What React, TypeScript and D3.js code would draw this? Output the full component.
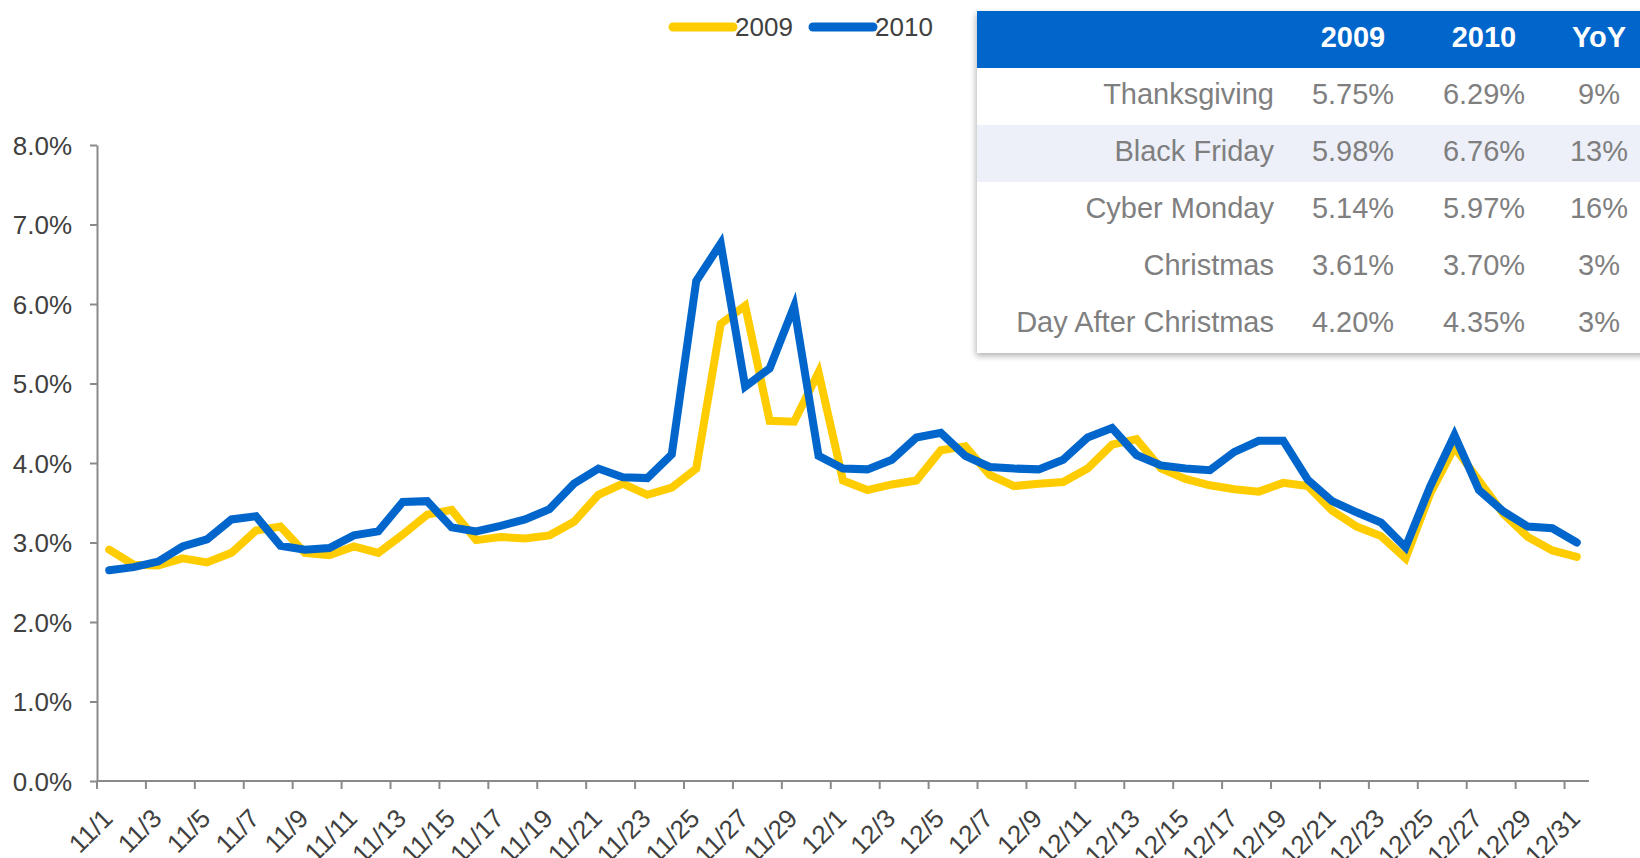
import React, { useEffect, useRef } from 'react';
import * as d3 from 'd3';

const DATES = [
  '11/1', '11/2', '11/3', '11/4', '11/5', '11/6', '11/7', '11/8', '11/9', '11/10',
  '11/11', '11/12', '11/13', '11/14', '11/15', '11/16', '11/17', '11/18', '11/19', '11/20',
  '11/21', '11/22', '11/23', '11/24', '11/25', '11/26', '11/27', '11/28', '11/29', '11/30',
  '12/1', '12/2', '12/3', '12/4', '12/5', '12/6', '12/7', '12/8', '12/9', '12/10',
  '12/11', '12/12', '12/13', '12/14', '12/15', '12/16', '12/17', '12/18', '12/19', '12/20',
  '12/21', '12/22', '12/23', '12/24', '12/25', '12/26', '12/27', '12/28', '12/29', '12/30',
  '12/31',
];

const SERIES_2009 = [
  2.91, 2.72, 2.71, 2.80, 2.75, 2.87, 3.15, 3.20, 2.87, 2.84,
  2.95, 2.87, 3.10, 3.35, 3.41, 3.03, 3.07, 3.05, 3.09, 3.26,
  3.60, 3.74, 3.60, 3.69, 3.93, 5.75, 5.98, 4.53, 4.52, 5.14,
  3.78, 3.66, 3.73, 3.78, 4.16, 4.21, 3.85, 3.71, 3.74, 3.76,
  3.93, 4.23, 4.30, 3.93, 3.80, 3.72, 3.67, 3.64, 3.75, 3.71,
  3.40, 3.20, 3.08, 2.80, 3.61, 4.20, 3.78, 3.36, 3.07, 2.90,
  2.82,
];

const SERIES_2010 = [
  2.65, 2.69, 2.76, 2.95, 3.04, 3.29, 3.33, 2.96, 2.91, 2.93,
  3.09, 3.14, 3.51, 3.52, 3.19, 3.14, 3.21, 3.29, 3.42, 3.74,
  3.93, 3.82, 3.81, 4.11, 6.29, 6.76, 4.96, 5.19, 5.97, 4.09,
  3.93, 3.92, 4.04, 4.32, 4.38, 4.09, 3.95, 3.93, 3.92, 4.04,
  4.32, 4.44, 4.10, 3.97, 3.93, 3.91, 4.14, 4.28, 4.28, 3.79,
  3.52, 3.38, 3.25, 2.94, 3.70, 4.35, 3.66, 3.39, 3.20, 3.18,
  3.00,
];

const Y_TICKS = [0, 1, 2, 3, 4, 5, 6, 7, 8];

const SERIES_NAMES = ['2009', '2010'];
const SERIES_COLORS = ['#ffcc00', '#0066cc'];

const TABLE_HEADERS = ['2009', '2010', 'YoY'];
const TABLE_EVENTS = ['Thanksgiving', 'Black Friday', 'Cyber Monday', 'Christmas', 'Day After Christmas'];
const TABLE_2009 = ['5.75%', '5.98%', '5.14%', '3.61%', '4.20%'];
const TABLE_2010 = ['6.29%', '6.76%', '5.97%', '3.70%', '4.35%'];
const TABLE_YOY = ['9%', '13%', '16%', '3%', '3%'];
const HIGHLIGHT_ROW = 'Black Friday';

const App: React.FC = () => {
  const svgRef = useRef<SVGSVGElement>(null);

  useEffect(() => {
    if (!svgRef.current) return;
    const width = 1640;
    const height = 858;
    const font = "'Liberation Sans', Arial, sans-serif";
    const axisColor = '#8a8a8a';
    const textColor = '#404040';
    const tableText = '#7f7f7f';

    const svg = d3.select(svgRef.current).attr('width', width).attr('height', height);
    svg.selectAll('*').remove();

    const x = d3.scaleBand<string>().domain(DATES).range([97, 1589]);
    const y = d3.scaleLinear().domain([0, 8]).range([781, 145]);
    const cx = (d: string) => (x(d) as number) + x.bandwidth() / 2;

    // y axis
    const yAxis = d3.axisLeft(y)
      .tickValues(Y_TICKS)
      .tickSize(7)
      .tickSizeOuter(0)
      .tickPadding(18)
      .tickFormat(d => `${(+d).toFixed(1)}%`);
    const gy = svg.append('g').attr('transform', 'translate(97,0)').call(yAxis);
    gy.select('.domain').attr('stroke', axisColor).attr('stroke-width', 2);
    gy.selectAll('.tick line').attr('stroke', axisColor).attr('stroke-width', 2);
    gy.selectAll('.tick text')
      .attr('fill', textColor)
      .attr('font-family', font)
      .attr('font-size', 26)
      .attr('dy', '0.36em');

    // x axis (ticks between every second category)
    const gx = svg.append('g');
    gx.append('line')
      .attr('x1', 97).attr('x2', 1589)
      .attr('y1', y(0)).attr('y2', y(0))
      .attr('stroke', axisColor).attr('stroke-width', 2);
    const labelled = DATES.filter((_, i) => i % 2 === 0);
    gx.selectAll('.xtick')
      .data(labelled)
      .enter()
      .append('line')
      .attr('x1', d => x(d) as number).attr('x2', d => x(d) as number)
      .attr('y1', y(0)).attr('y2', y(0) + 8)
      .attr('stroke', axisColor).attr('stroke-width', 2);
    gx.selectAll('.xlabel')
      .data(labelled)
      .enter()
      .append('text')
      .attr('transform', d => `translate(${cx(d) + 5},${y(0) + 39}) rotate(-45)`)
      .attr('text-anchor', 'end')
      .attr('fill', textColor)
      .attr('font-family', font)
      .attr('font-size', 26)
      .text(d => d);

    // lines
    const line = d3.line<number>()
      .x((_, i) => cx(DATES[i]))
      .y(d => y(d));
    [SERIES_2009, SERIES_2010].forEach((s, k) => {
      svg.append('path')
        .datum(s)
        .attr('d', line)
        .attr('fill', 'none')
        .attr('stroke', SERIES_COLORS[k])
        .attr('stroke-width', 8)
        .attr('stroke-linejoin', 'miter')
        .attr('stroke-linecap', 'round');
    });

    // legend
    const legendX = [673, 813];
    SERIES_NAMES.forEach((name, k) => {
      svg.append('line')
        .attr('x1', legendX[k]).attr('x2', legendX[k] + 60)
        .attr('y1', 27).attr('y2', 27)
        .attr('stroke', SERIES_COLORS[k])
        .attr('stroke-width', 9)
        .attr('stroke-linecap', 'round');
      svg.append('text')
        .attr('x', legendX[k] + 62).attr('y', 36)
        .attr('fill', textColor)
        .attr('font-family', font)
        .attr('font-size', 26)
        .text(name);
    });

    // table
    const defs = svg.append('defs');
    const filter = defs.append('filter').attr('id', 'shadow')
      .attr('x', '-5%').attr('y', '-5%').attr('width', '110%').attr('height', '115%');
    filter.append('feDropShadow')
      .attr('dx', -1).attr('dy', 3).attr('stdDeviation', 3)
      .attr('flood-color', '#000').attr('flood-opacity', 0.3);

    const tLeft = 977;
    const tTop = 11;
    const rowH = 57;
    const tRight = 1660;
    const table = svg.append('g');
    table.append('rect')
      .attr('x', tLeft).attr('y', tTop)
      .attr('width', tRight - tLeft).attr('height', rowH * (TABLE_EVENTS.length + 1))
      .attr('fill', '#fff')
      .attr('filter', 'url(#shadow)');
    table.append('rect')
      .attr('x', tLeft).attr('y', tTop)
      .attr('width', tRight - tLeft).attr('height', rowH)
      .attr('fill', '#0066cc');
    table.selectAll('.band')
      .data(TABLE_EVENTS.filter(d => d === HIGHLIGHT_ROW))
      .enter()
      .append('rect')
      .attr('x', tLeft)
      .attr('y', d => tTop + rowH * (TABLE_EVENTS.indexOf(d) + 1))
      .attr('width', tRight - tLeft).attr('height', rowH)
      .attr('fill', '#edf0f9');

    const colX = [1353, 1484, 1599];
    TABLE_HEADERS.forEach((h, c) => {
      table.append('text')
        .attr('x', colX[c]).attr('y', tTop + 35.5)
        .attr('text-anchor', 'middle')
        .attr('fill', '#fff')
        .attr('font-family', font)
        .attr('font-weight', 'bold')
        .attr('font-size', 29)
        .text(h);
    });
    TABLE_EVENTS.forEach((ev, r) => {
      const ty = tTop + rowH * (r + 1) + 35.5;
      table.append('text')
        .attr('x', 1274).attr('y', ty)
        .attr('text-anchor', 'end')
        .attr('fill', tableText)
        .attr('font-family', font)
        .attr('font-size', 29)
        .text(ev);
      [TABLE_2009[r], TABLE_2010[r], TABLE_YOY[r]].forEach((v, c) => {
        table.append('text')
          .attr('x', colX[c]).attr('y', ty)
          .attr('text-anchor', 'middle')
          .attr('fill', tableText)
          .attr('font-family', font)
          .attr('font-size', 29)
          .text(v);
      });
    });
  }, []);

  return (
    <svg
      ref={svgRef}
      style={{ position: 'absolute', left: 0, top: 0, background: '#fff', overflow: 'hidden' }}
    />
  );
};

export default App;
